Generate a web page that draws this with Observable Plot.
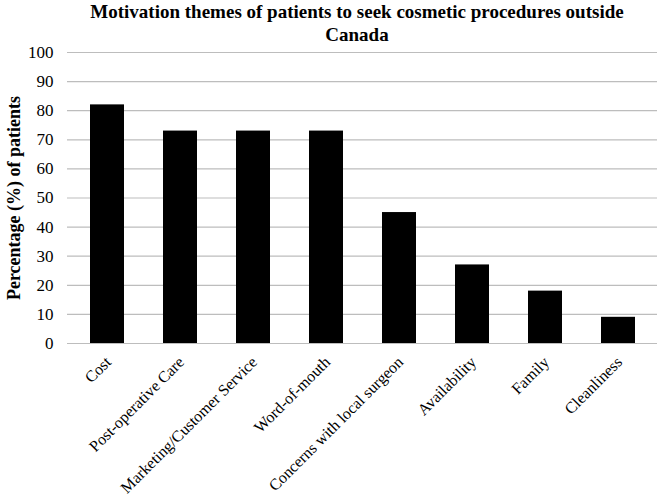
<!DOCTYPE html>
<html>
<head>
<meta charset="utf-8">
<script src="https://cdn.jsdelivr.net/npm/d3@7"></script>
<script src="https://cdn.jsdelivr.net/npm/@observablehq/plot@0.6"></script>
<style>
  body { margin: 0; background: white; font-family: "Liberation Serif", "Times New Roman", serif; }
  #wrap { position: relative; width: 660px; height: 498px; }
  #title { position: absolute; left: 57px; width: 600px; top: 0px; text-align: center; font-weight: bold; font-size: 19px; line-height: 23px; color: #000; z-index: 2; }
  #chart svg, #chart svg text { font-family: "Liberation Serif", "Times New Roman", serif !important; }
</style>
</head>
<body>
<div id="wrap">
  <div id="title">Motivation themes of patients to seek cosmetic procedures outside<br>Canada</div>
  <div id="chart"></div>
</div>
<script>
const categories = ["Cost", "Post-operative Care", "Marketing/Customer Service", "Word-of-mouth", "Concerns with local surgeon", "Availability", "Family", "Cleanliness"];
const values = [82, 73, 73, 73, 45, 27, 18, 9];
const yTicks = [0, 10, 20, 30, 40, 50, 60, 70, 80, 90, 100];
const yLabel = "Percentage (%) of patients";

const data = categories.map((c, i) => ({category: c, value: values[i]}));
const serif = "Liberation Serif, Times New Roman, serif";

const chart = Plot.plot({
  width: 660,
  height: 498,
  marginTop: 52,
  marginBottom: 155,
  marginLeft: 67,
  marginRight: 3,
  style: {fontFamily: serif, background: "white", color: "black", overflow: "visible"},
  x: {domain: categories, paddingInner: 0.54, paddingOuter: 0.27, label: null},
  y: {domain: [0, 100], label: null},
  marks: [
    Plot.ruleY(yTicks, {stroke: "#bdbdbd", strokeWidth: 1.2}),
    Plot.barY(data, {x: "category", y: "value", fill: "black"}),
    Plot.axisY(yTicks, {tickSize: 0, tickPadding: 14, fontSize: 17, fontFamily: serif, label: null}),
    Plot.axisX({tickSize: 0, tickPadding: 16, tickRotate: -45, fontSize: 16, fontFamily: serif, label: null, dx: 1}),
    Plot.text([yLabel], {frameAnchor: "left", rotate: -90, textAnchor: "middle", dx: -53, fontSize: 18, fontWeight: "bold", fontFamily: serif, fill: "black"})
  ]
});
document.getElementById("chart").appendChild(chart);
</script>
</body>
</html>
